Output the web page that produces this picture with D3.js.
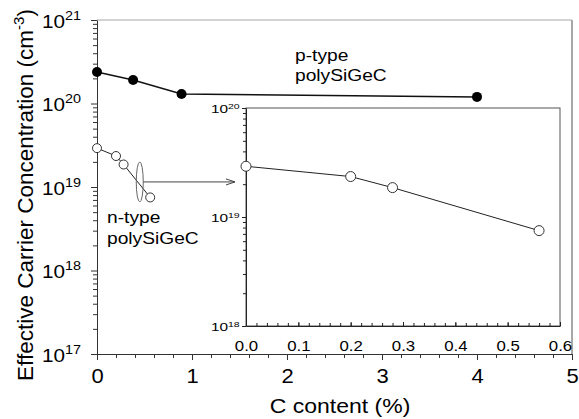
<!DOCTYPE html>
<html><head><meta charset="utf-8">
<script src="https://cdn.jsdelivr.net/npm/d3@7"></script>
<style>body{margin:0;background:#fff}svg{display:block;font-family:"Liberation Sans",Arial,sans-serif}</style>
</head><body>
<script>
// ---- data ----
const pTypeX = [0, 0.38, 0.89, 4.0];
const pTypeY = [2.38e20, 1.91e20, 1.30e20, 1.20e20];
const nTypeX = [0, 0.20, 0.28, 0.56];
const nTypeY = [2.92e19, 2.35e19, 1.86e19, 7.5e18];
const mainXTicks = [0, 1, 2, 3, 4, 5];
const mainYExps = [17, 18, 19, 20, 21];
const insetXTicks = [0, 0.1, 0.2, 0.3, 0.4, 0.5, 0.6];
const insetYExps = [18, 19, 20];
const labels = {x: "C content (%)", y: "Effective Carrier Concentration (cm", ySup: "-3", yEnd: ")",
  p1: "p-type", p2: "polySiGeC", n1: "n-type", n2: "polySiGeC"};

const W = 579, H = 419;
const svg = d3.select("body").append("svg").attr("width", W).attr("height", H);

const xM = d3.scaleLinear().domain([0, 5]).range([97, 572]);
const yM = d3.scaleLog().domain([1e17, 1e21]).range([354, 20]);
const xI = d3.scaleLinear().domain([0, 0.6]).range([246, 560]);
const yI = d3.scaleLog().domain([1e18, 1e20]).range([326, 108]);

function logMinors(e0, e1) {
  const v = [];
  for (let e = e0; e < e1; e++) for (let m = 2; m <= 9; m++) v.push(m * Math.pow(10, e));
  return v;
}

// ---- main frame ----
svg.append("line").attr("x1", xM(0)).attr("x2", xM(5)).attr("y1", yM(1e21)).attr("y2", yM(1e21))
  .attr("stroke", "#a8a8a8").attr("stroke-width", 1.2);
svg.append("line").attr("x1", xM(5)).attr("x2", xM(5)).attr("y1", yM(1e21)).attr("y2", yM(1e17))
  .attr("stroke", "#a8a8a8").attr("stroke-width", 2);

// main y axis
const gY = svg.append("g").attr("transform", `translate(${xM(0)},0)`);
gY.append("g").call(d3.axisLeft(yM).tickValues(logMinors(17, 21)).tickSize(4).tickFormat(""))
  .call(g => g.select(".domain").remove());
const gYM = gY.append("g").call(d3.axisLeft(yM).tickValues(mainYExps.map(e => Math.pow(10, e))).tickSize(6).tickSizeOuter(0).tickFormat(""));
gYM.select(".domain").attr("stroke", "#333");
gYM.selectAll(".tick text").remove();
gYM.selectAll(".tick").append("text").attr("fill", "#000").attr("text-anchor", "end")
  .attr("transform", "scale(1.15,1)").attr("x", -14).attr("y", 7).attr("font-size", 18)
  .each(function (d) {
    const t = d3.select(this);
    t.append("tspan").text("10");
    t.append("tspan").attr("dy", -8).attr("font-size", 12.5).text(Math.round(Math.log10(d)));
  });
gY.selectAll("line").attr("stroke", "#333");

// main x axis
const gX = svg.append("g").attr("transform", `translate(0,${yM(1e17)})`);
gX.append("g").call(d3.axisBottom(xM).tickValues(d3.range(0, 26).map(i => i * 0.2)).tickSize(4).tickFormat(""))
  .call(g => g.select(".domain").remove());
const gXM = gX.append("g").call(d3.axisBottom(xM).tickValues(mainXTicks).tickSize(6).tickSizeOuter(0).tickFormat(d3.format("d")));
gXM.select(".domain").attr("stroke", "#333");
gXM.selectAll(".tick text").attr("font-size", 20).attr("fill", "#000").attr("y", 15).attr("dy", "0.71em")
  .attr("font-family", "Liberation Sans, Arial, sans-serif").attr("transform", "scale(1.1,1)");
gX.selectAll("line").attr("stroke", "#333");

// axis titles
svg.append("text").attr("transform", "translate(340,413) scale(1.15,1)").attr("text-anchor", "middle")
  .attr("font-size", 20).text(labels.x);
const yt = svg.append("text").attr("transform", "translate(33,195) rotate(-90)").attr("text-anchor", "middle")
  .attr("font-size", 22.5);
yt.append("tspan").text(labels.y);
yt.append("tspan").attr("dy", -9).attr("font-size", 15).text(labels.ySup);
yt.append("tspan").attr("dy", 9).text(labels.yEnd);

// main data
const lineM = d3.line().x(d => xM(d[0])).y(d => yM(d[1]));
const pData = pTypeX.map((x, i) => [x, pTypeY[i]]);
const nData = nTypeX.map((x, i) => [x, nTypeY[i]]);
svg.append("path").attr("d", lineM(pData)).attr("fill", "none").attr("stroke", "#111").attr("stroke-width", 1.5);
svg.selectAll(".pp").data(pData).enter().append("circle").attr("cx", d => xM(d[0])).attr("cy", d => yM(d[1]))
  .attr("r", 5).attr("fill", "#000");
svg.append("path").attr("d", lineM(nData)).attr("fill", "none").attr("stroke", "#222").attr("stroke-width", 1);
svg.selectAll(".np").data(nData).enter().append("circle").attr("cx", d => xM(d[0])).attr("cy", d => yM(d[1]))
  .attr("r", 4.5).attr("fill", "#fff").attr("stroke", "#333").attr("stroke-width", 1);

// annotations
function label(x, y, s) {
  svg.append("text").attr("transform", `translate(${x},${y}) scale(1.2,1)`).attr("font-size", 16).text(s);
}
label(295, 61, labels.p1); label(295, 81, labels.p2);
label(107, 223, labels.n1); label(107, 244, labels.n2);

// ellipse + arrow
const ex = xM(0.45), ey = yM(1.15e19);
svg.append("ellipse").attr("cx", ex).attr("cy", ey).attr("rx", 3.5).attr("ry", 20)
  .attr("fill", "none").attr("stroke", "#666").attr("stroke-width", 1);
const ax = xI(0) - 11;
svg.append("line").attr("x1", ex + 3.5).attr("x2", ax).attr("y1", ey).attr("y2", ey).attr("stroke", "#444");
svg.append("path").attr("d", `M${ax - 9},${ey - 3}L${ax},${ey}L${ax - 9},${ey + 3}`).attr("fill", "none").attr("stroke", "#444");

// ---- inset ----
const ins = svg.append("g");
ins.append("rect").attr("x", xI(0)).attr("y", yI(1e20)).attr("width", xI(0.6) - xI(0)).attr("height", yI(1e18) - yI(1e20))
  .attr("fill", "#fff").attr("stroke", "#555").attr("stroke-width", 1);
const giY = ins.append("g").attr("transform", `translate(${xI(0)},0)`);
giY.append("g").call(d3.axisLeft(yI).tickValues(logMinors(18, 20)).tickSize(3).tickFormat(""))
  .call(g => g.select(".domain").remove());
const giYM = giY.append("g").call(d3.axisLeft(yI).tickValues(insetYExps.map(e => Math.pow(10, e))).tickSize(4).tickSizeOuter(0).tickFormat(""));
giYM.selectAll(".tick text").remove();
giYM.selectAll(".tick").append("text").attr("fill", "#000").attr("text-anchor", "end")
  .attr("transform", "scale(1.4,1)").attr("x", -4.5).attr("y", 4).attr("font-size", 11)
  .each(function (d) {
    const t = d3.select(this);
    t.append("tspan").text("10");
    t.append("tspan").attr("dy", -4).attr("font-size", 7.5).text(Math.round(Math.log10(d)));
  });
giY.selectAll("line,path").attr("stroke", "#222");

const giX = ins.append("g").attr("transform", `translate(0,${yI(1e18)})`);
giX.append("g").call(d3.axisTop(xI).tickValues(d3.range(0, 31).map(i => i * 0.02)).tickSize(3).tickFormat(""))
  .call(g => g.select(".domain").remove());
const giXM = giX.append("g").call(d3.axisTop(xI).tickValues(insetXTicks).tickSize(4).tickSizeOuter(0).tickFormat(d3.format(".1f")));
giXM.selectAll(".tick text").attr("font-size", 14).attr("fill", "#000").attr("y", 25).attr("dy", 0)
  .attr("font-family", "Liberation Sans, Arial, sans-serif").attr("transform", "scale(1.2,1)");
giX.selectAll("line,path").attr("stroke", "#222");

const lineI = d3.line().x(d => xI(d[0])).y(d => yI(d[1]));
ins.append("path").attr("d", lineI(nData)).attr("fill", "none").attr("stroke", "#222").attr("stroke-width", 1);
ins.selectAll(".ip").data(nData).enter().append("circle").attr("cx", d => xI(d[0])).attr("cy", d => yI(d[1]))
  .attr("r", 5).attr("fill", "#fff").attr("stroke", "#333").attr("stroke-width", 1);
</script>
</body></html>
